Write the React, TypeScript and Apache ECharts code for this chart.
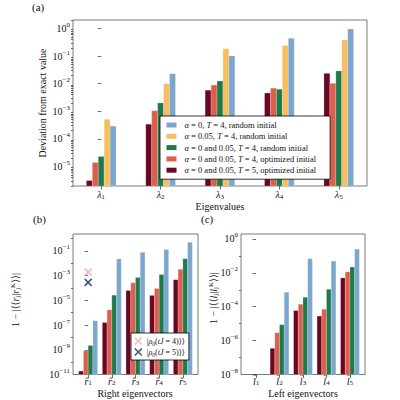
import { useEffect, useRef } from 'react';
import * as echarts from 'echarts';

const FONT = "'Liberation Serif', 'DejaVu Serif', serif";
const FRAME = '#7a7a7a';
const TICK = '#444444';

// Run colours
const C_T5_OPT = '#6b0524';
const C_T4_OPT = '#dc5e4b';
const C_T4_RAND = '#1e7a4b';
const C_A005_RAND = '#f6be5c';
const C_A0_RAND = '#7ba6cd';
const C_RHO4 = '#f4a5b0';
const C_RHO5 = '#0c2d63';

// Run names
const NAME_A0_RAND = 'α = 0, T = 4, random initial';
const NAME_A005_RAND = 'α = 0.05, T = 4, random initial';
const NAME_T4_RAND = 'α = 0 and 0.05, T = 4, random initial';
const NAME_T4_OPT = 'α = 0 and 0.05, T = 4, optimized initial';
const NAME_T5_OPT = 'α = 0 and 0.05, T = 5, optimized initial';
const NAME_RHO4 = '|ρ₀(tJ = 4)⟩⟩';
const NAME_RHO5 = '|ρ₀(tJ = 5)⟩⟩';

// Category positions and subscripts
const catPos = [0, 1, 2, 3, 4];
const catIndex = ['1', '2', '3', '4', '5'];

// (a) deviation from the exact eigenvalues λ1..λ5
const devT5Opt = [3.1e-6, 3.4e-4, 5.8e-3, 4.6e-3, 2.37e-2];
const devT4Opt = [1.4e-5, 1.05e-3, 8.9e-3, 6.9e-3, 1.03e-2];
const devT4Rand = [2.3e-5, 2.0e-3, 1.25e-2, 6.3e-3, 2.9e-2];
const devA005Rand = [5.1e-4, 1.0e-2, 0.185, 0.24, 0.38];
const devA0Rand = [2.9e-4, 2.3e-2, 0.1, 0.44, 0.96];

// (b) infidelity of the right eigenvectors
const rightT5Opt = [1.9e-11, 1.6e-7, 6.3e-5, 2.5e-5, 4.6e-4];
const rightT4Opt = [8e-10, 1.7e-6, 2.6e-4, 9e-5, 3.2e-3];
const rightT4Rand = [2.2e-9, 2.6e-5, 7e-4, 1.2e-3, 2.3e-2];
const rightA0Rand = [2.2e-7, 2.2e-2, 7.6e-2, 0.126, 0.49];
const rightRho4 = [[0, 1.9e-3]];
const rightRho5 = [[0, 2.8e-4]];

// (c) infidelity of the left eigenvectors (l1 is exact)
const leftT5Opt = [null, 3.5e-7, 5.9e-5, 2.8e-5, 5.0e-3];
const leftT4Opt = [null, 2.9e-6, 1.4e-4, 7.1e-5, 1.15e-2];
const leftT4Rand = [null, 8.7e-6, 3.6e-4, 1.07e-3, 2.2e-2];
const leftA0Rand = [null, 7.2e-4, 6.8e-2, 4.9e-2, 0.25];

// Axis ticks
const majorA = [1e-5, 1e-4, 1e-3, 1e-2, 1e-1, 1];
const majorB = [1e-11, 1e-9, 1e-7, 1e-5, 1e-3, 1e-1];
const minorB = [1e-10, 1e-8, 1e-6, 1e-4, 1e-2, 1];
const majorC = [1e-8, 1e-6, 1e-4, 1e-2, 1];
const minorC = [1e-7, 1e-5, 1e-3, 1e-1];

const A_MIN = 1.96e-6, A_MAX = 2.03;
const B_MIN = 1e-11, B_MAX = 2.3;
const C_MIN = 1e-8, C_MAX = 1.95;

const minorA: number[] = [];
for (let e = -6; e <= 0; e++) {
  for (let k = 2; k <= 9; k++) {
    const v = parseFloat((k * Math.pow(10, e)).toPrecision(3));
    if (v >= A_MIN && v <= A_MAX) minorA.push(v);
  }
}

const toPairs = (vals: (number | null)[]) =>
  vals.map((v, i) => [catPos[i], v]).filter((d) => d[1] != null);

const richMath = (size: number, lh: number) => ({
  n: { fontFamily: FONT, fontSize: size, lineHeight: lh, verticalAlign: 'middle', color: '#111' },
  i: { fontFamily: FONT, fontSize: size, fontStyle: 'italic', lineHeight: lh, verticalAlign: 'middle', color: '#111' },
  s: { fontFamily: FONT, fontSize: size * 0.7, lineHeight: lh, verticalAlign: 'bottom', color: '#111' },
  u: { fontFamily: FONT, fontSize: size * 0.7, lineHeight: lh, verticalAlign: 'top', color: '#111' },
});

const supLabel = (value: number) => {
  const e = Math.round(Math.log10(value));
  return `{n|10}{u|${e < 0 ? '−' + -e : e}}`;
};

function barItem(offset: number, width: number, base: number) {
  return (_params: any, api: any) => {
    const x = api.value(0) as number;
    const v = api.value(1) as number;
    const p0 = api.coord([x + offset - width / 2, v]);
    const p1 = api.coord([x + offset + width / 2, base]);
    return {
      type: 'rect',
      shape: { x: p0[0], y: p0[1], width: p1[0] - p0[0], height: p1[1] - p0[1] },
      style: { fill: api.visual('color'), stroke: 'rgba(255,255,255,0.35)', lineWidth: 0.6 },
    };
  };
}

function barSeries(name: string, color: string, vals: (number | null)[], grid: number, offset: number, width: number, base: number) {
  return {
    type: 'custom',
    name,
    xAxisIndex: grid,
    yAxisIndex: grid,
    itemStyle: { color },
    renderItem: barItem(offset, width, base),
    encode: { x: 0, y: 1 },
    data: toPairs(vals),
    z: 2,
  };
}

function xAxisFor(grid: number, min: number, max: number, symbol: string, margin: number) {
  return {
    type: 'value',
    gridIndex: grid,
    min,
    max,
    axisLine: { show: false },
    splitLine: { show: false },
    axisTick: { show: true, customValues: catPos, length: 3.5, lineStyle: { color: TICK, width: 0.8 } },
    axisLabel: {
      customValues: catPos,
      margin,
      formatter: (v: number) => `{i|${symbol}}{s|${catIndex[Math.round(v)]}}`,
      rich: richMath(10, 11),
    },
  };
}

function yAxisFor(grid: number, min: number, max: number, ticks: number[], len: number, labels: boolean) {
  return {
    type: 'log',
    logBase: 10,
    gridIndex: grid,
    position: 'left',
    min,
    max,
    axisLine: { show: false },
    splitLine: { show: false },
    minorTick: { show: false },
    axisTick: { show: true, customValues: ticks, length: len, lineStyle: { color: TICK, width: 0.8 } },
    axisLabel: labels
      ? { customValues: ticks, margin: 3, formatter: supLabel, rich: richMath(10, 14) }
      : { show: false },
  };
}

const gridBase = { show: true, borderColor: FRAME, borderWidth: 1, backgroundColor: 'transparent', outerBoundsMode: 'none' };

const legendRichA = {
  i: { fontFamily: FONT, fontSize: 8.5, fontStyle: 'italic', color: '#111' },
};
const legendRichB = {
  i: { fontFamily: FONT, fontSize: 8, fontStyle: 'italic', color: '#111', lineHeight: 11, verticalAlign: 'middle' },
  s: { fontFamily: FONT, fontSize: 5.6, fontStyle: 'italic', color: '#111', lineHeight: 11, verticalAlign: 'bottom' },
};

const crossPath = 'path://M0,0L10,10M10,0L0,10';

function titleText(text: string, x: number, y: number, size: number, rotate = false, align = 'center') {
  return {
    type: 'text',
    x,
    y,
    rotation: rotate ? Math.PI / 2 : 0,
    style: {
      text,
      fontFamily: FONT,
      fontSize: size,
      lineHeight: 12,
      fill: '#111',
      align,
      verticalAlign: 'middle',
      rich: richMath(size, 12),
    },
  };
}

export default function App() {
  const ref = useRef<HTMLDivElement>(null);

  useEffect(() => {
    if (!ref.current) return;
    const chart = echarts.init(ref.current, undefined, { renderer: 'svg' });

    const option: any = {
      animation: false,
      backgroundColor: '#ffffff',
      textStyle: { fontFamily: FONT },
      grid: [
        { ...gridBase, left: 73, top: 20, width: 294, height: 166 },
        { ...gridBase, left: 73, top: 234, width: 125, height: 140.5 },
        { ...gridBase, left: 241, top: 234, width: 124, height: 140.5 },
      ],
      xAxis: [
        xAxisFor(0, -0.475, 4.475, 'λ', 3),
        xAxisFor(1, -0.64, 4.64, 'r̂', 1),
        xAxisFor(2, -0.64, 4.64, 'l̂', 1),
      ],
      yAxis: [
        yAxisFor(0, A_MIN, A_MAX, majorA, 3.5, true),
        yAxisFor(1, B_MIN, B_MAX, majorB, 3.5, true),
        yAxisFor(2, C_MIN, C_MAX, majorC, 3.5, true),
        yAxisFor(0, A_MIN, A_MAX, minorA, 2, false),
        yAxisFor(1, B_MIN, B_MAX, minorB, 2, false),
        yAxisFor(2, C_MIN, C_MAX, minorC, 2, false),
      ],
      legend: [
        {
          orient: 'vertical',
          left: 160,
          top: 116,
          itemWidth: 10,
          itemHeight: 5,
          itemGap: 1.3,
          padding: [4, 14, 4, 6.5],
          backgroundColor: '#ffffff',
          borderColor: '#000000',
          borderWidth: 0.8,
          borderRadius: 0,
          selectedMode: false,
          z: 10,
          data: [NAME_A0_RAND, NAME_A005_RAND, NAME_T4_RAND, NAME_T4_OPT, NAME_T5_OPT].map((name) => ({ name, icon: 'rect' })),
          formatter: (name: string) => name.replace(/α/g, '{i|α}').replace(/T(?= =)/g, '{i|T}'),
          textStyle: { fontFamily: FONT, fontSize: 8.5, lineHeight: 10, color: '#111', padding: [0, 0, 0, 3], rich: legendRichA },
        },
        {
          orient: 'vertical',
          left: 131,
          top: 333,
          itemWidth: 7,
          itemHeight: 7,
          itemGap: 0,
          padding: [2.5, 4, 2.5, 3],
          backgroundColor: '#ffffff',
          borderColor: '#000000',
          borderWidth: 0.8,
          selectedMode: false,
          z: 10,
          data: [
            { name: NAME_RHO4, icon: crossPath, itemStyle: { color: 'transparent', borderColor: C_RHO4, borderWidth: 1.6 } },
            { name: NAME_RHO5, icon: crossPath, itemStyle: { color: 'transparent', borderColor: C_RHO5, borderWidth: 1.6 } },
          ],
          formatter: (name: string) =>
            name.replace('ρ₀', '{i|ρ}{s|0}').replace('tJ', '{i|tJ}'),
          textStyle: { fontFamily: FONT, fontSize: 8, lineHeight: 11, color: '#111', rich: legendRichB },
        },
      ],
      series: [
        barSeries(NAME_T5_OPT, C_T5_OPT, devT5Opt, 0, -0.2, 0.1, A_MIN),
        barSeries(NAME_T4_OPT, C_T4_OPT, devT4Opt, 0, -0.1, 0.1, A_MIN),
        barSeries(NAME_T4_RAND, C_T4_RAND, devT4Rand, 0, 0, 0.1, A_MIN),
        barSeries(NAME_A005_RAND, C_A005_RAND, devA005Rand, 0, 0.1, 0.1, A_MIN),
        barSeries(NAME_A0_RAND, C_A0_RAND, devA0Rand, 0, 0.2, 0.1, A_MIN),

        barSeries(NAME_T5_OPT, C_T5_OPT, rightT5Opt, 1, -0.3, 0.2, B_MIN),
        barSeries(NAME_T4_OPT, C_T4_OPT, rightT4Opt, 1, -0.1, 0.2, B_MIN),
        barSeries(NAME_T4_RAND, C_T4_RAND, rightT4Rand, 1, 0.1, 0.2, B_MIN),
        barSeries(NAME_A0_RAND, C_A0_RAND, rightA0Rand, 1, 0.3, 0.2, B_MIN),
        {
          type: 'scatter',
          name: NAME_RHO4,
          xAxisIndex: 1,
          yAxisIndex: 1,
          symbol: crossPath,
          symbolSize: 7,
          itemStyle: { color: 'transparent', borderColor: C_RHO4, borderWidth: 1.6 },
          data: rightRho4,
          z: 3,
        },
        {
          type: 'scatter',
          name: NAME_RHO5,
          xAxisIndex: 1,
          yAxisIndex: 1,
          symbol: crossPath,
          symbolSize: 7,
          itemStyle: { color: 'transparent', borderColor: C_RHO5, borderWidth: 1.6 },
          data: rightRho5,
          z: 3,
        },

        barSeries(NAME_T5_OPT, C_T5_OPT, leftT5Opt, 2, -0.3, 0.2, C_MIN),
        barSeries(NAME_T4_OPT, C_T4_OPT, leftT4Opt, 2, -0.1, 0.2, C_MIN),
        barSeries(NAME_T4_RAND, C_T4_RAND, leftT4Rand, 2, 0.1, 0.2, C_MIN),
        barSeries(NAME_A0_RAND, C_A0_RAND, leftA0Rand, 2, 0.3, 0.2, C_MIN),
      ],
      graphic: [
        titleText('(a)', 32, 7, 11, false, 'left'),
        titleText('(b)', 33, 219, 11, false, 'left'),
        titleText('(c)', 201, 219, 11, false, 'left'),
        titleText('Deviation from exact value', 42, 103, 10, true),
        titleText('Eigenvalues', 220, 206, 10),
        titleText('1 − |⟨⟨{i|r}{s|j}|{i|r}{s|j}{u|K}⟩⟩|', 15, 300, 10, true),
        titleText('Right eigenvectors', 135, 393, 10),
        titleText('1 − |⟨⟨{i|l}{s|j}|{i|l}{s|j}{u|K}⟩⟩|', 213, 298, 10, true),
        titleText('Left eigenvectors', 303, 393, 10),
      ],
    };

    chart.setOption(option);
    return () => chart.dispose();
  }, []);

  return <div ref={ref} style={{ position: 'fixed', left: 0, top: 0, width: 400, height: 400 }} />;
}
